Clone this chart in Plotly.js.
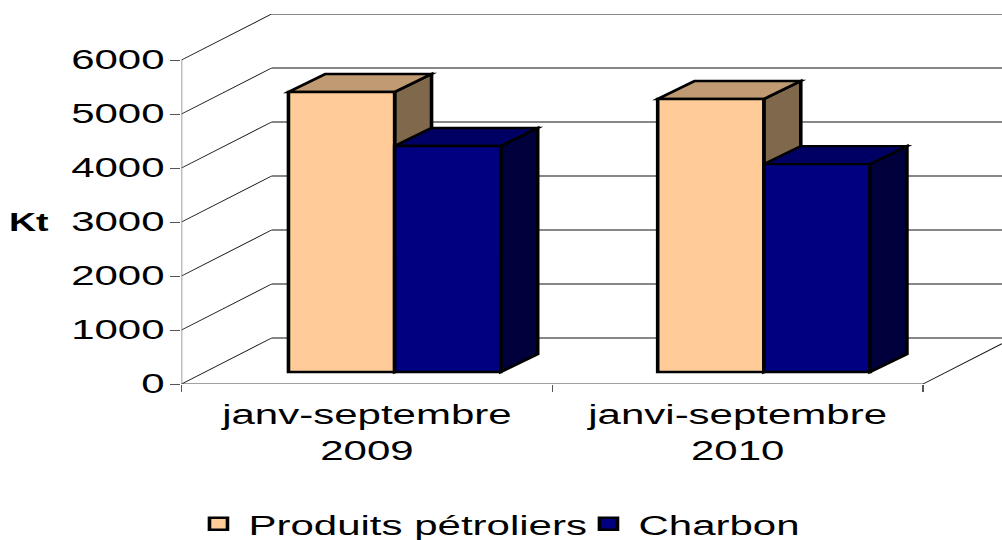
<!DOCTYPE html>
<html>
<head>
<meta charset="utf-8">
<script src="https://cdn.plot.ly/plotly-3.0.1.min.js"></script>
<style>
html,body{margin:0;padding:0;background:#fff;overflow:hidden}
#chart{width:668px;height:540px;transform:scaleX(1.5);transform-origin:0 0}
</style>
</head>
<body>
<div id="chart"></div>
<script>
const categories = ['janv-septembre<br>2009', 'janvi-septembre<br>2010'];
const produits = [5185, 5055];
const charbon = [4185, 3850];
const yTicks = [0, 1000, 2000, 3000, 4000, 5000, 6000];
const seriesNames = ['Produits pétroliers', 'Charbon'];

const centers = [0.5, 1.5];
const barW = 0.2875, depthX = 0.1, depthY = 333;   // bar width and 3-D extrusion in axis units
const wallX = 0.243, wallY = 852;                  // offset of the back wall
const rightEnd = 2.213;
const ink = '#000';
const edge = 2.4;

function poly(pts, fill) {
  return {type:'path', layer:'below', xref:'x2', yref:'y2', fillcolor:fill,
          line:{color:ink, width:edge},
          path:'M' + pts.map(p => p[0] + ',' + p[1]).join('L') + 'Z'};
}
function faces(xl, xr, v, topC, sideC) {
  return [
    poly([[xr,0],[xr+depthX,depthY],[xr+depthX,v+depthY],[xr,v]], sideC),
    poly([[xl,v],[xl+depthX,v+depthY],[xr+depthX,v+depthY],[xr,v]], topC)
  ];
}
function seg(x0,y0,x1,y1,color,width) {
  return {type:'line', layer:'below', xref:'x', yref:'y', x0, y0, x1, y1, line:{color, width}};
}

const shapes = [];
yTicks.forEach(v => {
  shapes.push(seg(0, v, wallX, v + wallY, '#111', 0.8));
  shapes.push(seg(wallX, v + wallY, rightEnd, v + wallY, '#111', 0.8));
});
shapes.push(seg(0, 0, 0, 6000, '#808080', 1));
shapes.push(seg(0, 0, 2, 0, '#444', 1.2));
shapes.push(seg(2, 0, rightEnd, wallY * (rightEnd - 2) / wallX, '#111', 0.8));
centers.forEach((c, i) => {
  shapes.push(...faces(c - barW, c, produits[i], '#BF9A72', '#80684C'));
  shapes.push(...faces(c, c + barW, charbon[i], '#000064', '#00003C'));
});

const barLine = {color: ink, width: edge};
const data = [
  {type:'bar', name:seriesNames[0], x:centers, y:produits, xaxis:'x2', yaxis:'y2',
   marker:{color:'#FFCC99', line:barLine}, hoverinfo:'skip'},
  {type:'bar', name:seriesNames[1], x:centers, y:charbon, xaxis:'x2', yaxis:'y2',
   marker:{color:'#000080', line:barLine}, hoverinfo:'skip'}
];

const layout = {
  width: 668, height: 540,
  margin: {l: 121.33, r: 0, t: 14, b: 156, autoexpand: false},
  paper_bgcolor: '#fff', plot_bgcolor: '#fff',
  font: {family: '"Liberation Sans", Arial, sans-serif', size: 28, color: '#000'},
  barmode: 'group', bargap: 0.425, bargroupgap: 0,
  showlegend: true,
  legend: {orientation:'h', x:0.0085, xanchor:'left', y:-0.311, yanchor:'top',
           bgcolor:'rgba(0,0,0,0)', font:{size:28}, traceorder:'normal',
           entrywidth:215, entrywidthmode:'pixels'},
  xaxis: {range:[0, rightEnd], tickmode:'array', tickvals:centers, ticktext:categories,
          ticks:'', showgrid:false, zeroline:false, showline:false, tickangle:0,
          tickfont:{size:28}, automargin:false, ticklabelstandoff:11,
          minor:{tickmode:'array', tickvals:[0,1,2], ticks:'outside', ticklen:7, tickcolor:'#555', tickwidth:1, showgrid:false}},
  yaxis: {range:[0, 6852], tickmode:'array', tickvals:yTicks, ticks:'outside', ticklen:6.67,
          tickcolor:'#555', tickwidth:1, showgrid:false, zeroline:false, showline:false,
          tickfont:{size:28}, automargin:false, ticklabelstandoff:-2, ticklabelshift:-1},
  xaxis2: {overlaying:'x', anchor:'y2', range:[-0.0772, 2.145], visible:false, showgrid:false, zeroline:false},
  yaxis2: {overlaying:'y', anchor:'x2', range:[-222, 6630], visible:false, showgrid:false, zeroline:false},
  shapes,
  annotations: [{text:'<b>Kt</b>', xref:'paper', yref:'paper', x:-0.185, y:0.438,
                 xanchor:'center', yanchor:'middle', showarrow:false, font:{size:25, color:'#000'}}]
};

Plotly.newPlot('chart', data, layout, {displayModeBar:false, staticPlot:true});
</script>
</body>
</html>
